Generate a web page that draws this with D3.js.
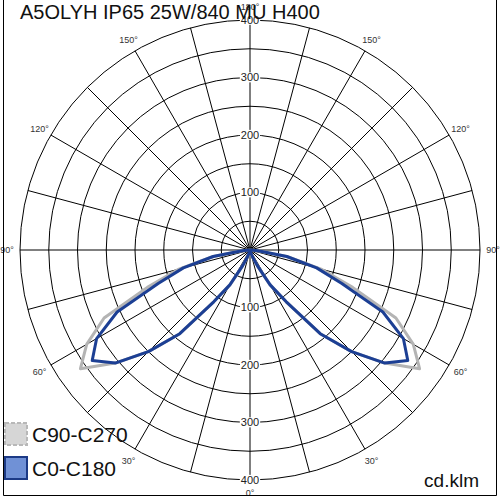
<!DOCTYPE html>
<html><head><meta charset="utf-8">
<script src="https://cdn.jsdelivr.net/npm/d3@7"></script>
<style>body{margin:0;background:#fff}svg{display:block}</style>
</head><body>
<svg id="chart" width="500" height="500"></svg>
<script>
const title = "A5OLYH IP65 25W/840 MU H400";
const unitLabel = "cd.klm";
const gammaAngles = [0,5,10,15,20,25,30,35,40,45,50,55,60,65,70,75,80,85,90];
const seriesNames = ["C90-C270","C0-C180"];
const c90c270 = [2,2,3,5,12,30,70,110,190,250,306,360,328,280,190,128,65,14,0];
const c0c180  = [2,2,3,5,12,30,70,110,190,250,306,335,308,255,170,120,65,14,0];
const ringValues = [50,100,150,200,250,300,350,400];
const valueLabels = [100,200,300,400];
const angleLabels = [0,30,60,90,120,150,180];
const spokeAngles = d3.range(0,360,15);

const svg = d3.select("#chart");
const cx = 250, cy = 250;
const font = "'Liberation Sans', Arial, sans-serif";
const r = d3.scaleLinear().domain([0,400]).range([0,230]);
const g = svg.append("g").attr("transform",`translate(${cx},${cy})`);

// frame
svg.append("path").attr("d","M3.5,0 V495.5 H496.5 V0").attr("fill","none").attr("stroke","#000").attr("stroke-width",1);

// rings
g.selectAll("circle.ring").data(ringValues).join("circle")
  .attr("r",d=>r(d)).attr("fill","none").attr("stroke","#000").attr("stroke-width",1);
// spokes
const rad = d=>d*Math.PI/180;
g.selectAll("line.spoke").data(spokeAngles).join("line")
  .attr("x1",0).attr("y1",0)
  .attr("x2",d=>r(400)*Math.sin(rad(d))).attr("y2",d=>r(400)*Math.cos(rad(d)))
  .attr("stroke","#000").attr("stroke-width",1);

// curves
function curvePoints(vals){
  const pts=[];
  for(let i=vals.length-1;i>=0;i--) pts.push([Math.PI+rad(gammaAngles[i]), r(vals[i])]);
  for(let i=1;i<vals.length;i++) pts.push([Math.PI-rad(gammaAngles[i]), r(vals[i])]);
  return pts;
}
const lr = d3.lineRadial().angle(d=>d[0]).radius(d=>d[1]);
g.append("path").attr("d",lr(curvePoints(c90c270))).attr("fill","none")
  .attr("stroke","#b4b4b4").attr("stroke-width",3).attr("stroke-linejoin","round");
g.append("path").attr("d",lr(curvePoints(c0c180))).attr("fill","none")
  .attr("stroke","#1c3f94").attr("stroke-width",3).attr("stroke-linejoin","round");

// value labels
[-1,1].forEach(s=>{
  valueLabels.forEach(v=>{
    const t = g.append("text").attr("x",0).attr("y",s*r(v)).attr("dy","0.35em")
      .attr("text-anchor","middle").attr("font-family",font).attr("font-size",11).attr("fill","#222").text(v);
    const bb = t.node().getBBox();
    g.insert("rect","text").attr("x",bb.x-1).attr("y",bb.y+1).attr("width",bb.width+2).attr("height",bb.height-2).attr("fill","#fff");
  });
});

// angle labels
angleLabels.forEach(a=>{
  const sides = (a===0||a===180)?[1]:[1,-1];
  sides.forEach(s=>{
    const x = s*243*Math.sin(rad(a)), y = 243*Math.cos(rad(a));
    g.append("text").attr("x",x).attr("y",y).attr("dy","0.35em").attr("text-anchor","middle")
      .attr("font-family",font).attr("font-size",9).attr("fill","#333").text(a+"°");
  });
});

// title
svg.append("text").attr("x",20).attr("y",19).attr("font-family",font).attr("font-size",20).attr("fill","#111").text(title);
// unit
svg.append("text").attr("x",479).attr("y",487).attr("text-anchor","end").attr("font-family",font).attr("font-size",19).attr("fill","#111").text(unitLabel);

// legend
const legendStyles = [
  {fill:"#d6d6d6",stroke:"#b8b8b8",dash:"4,2"},
  {fill:"#7091d6",stroke:"#1c3a86",dash:null}
];
seriesNames.forEach((n,i)=>{
  const y0 = 423 + i*34;
  svg.append("rect").attr("x",5).attr("y",y0).attr("width",22).attr("height",22)
    .attr("fill",legendStyles[i].fill).attr("stroke",legendStyles[i].stroke).attr("stroke-width",2)
    .attr("stroke-dasharray",legendStyles[i].dash);
  svg.append("text").attr("x",32).attr("y",y0+19).attr("font-family",font).attr("font-size",21).attr("fill","#111").text(n);
});
</script>
</body></html>
